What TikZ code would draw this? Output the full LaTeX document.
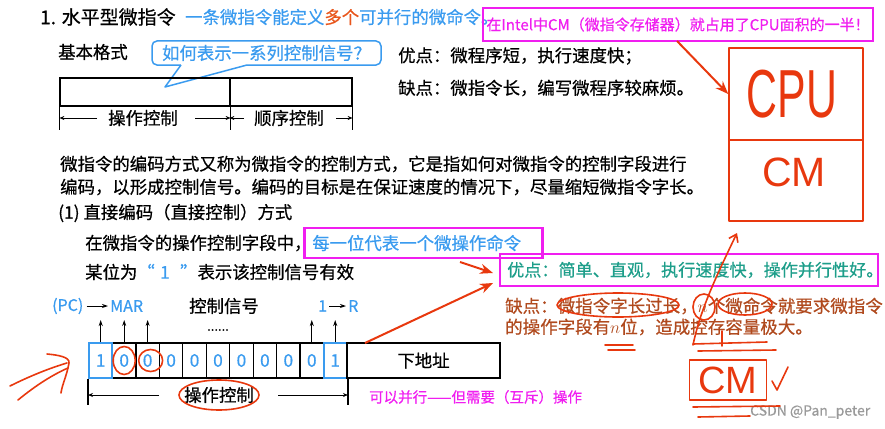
\documentclass[tikz,border=0pt]{standalone}
\usepackage{fontspec}
\setmainfont{Noto Sans CJK SC}[FakeBold=0.6]
\newfontfamily\handfont{Liberation Sans}
\usepackage{tikz}
\usetikzlibrary{positioning, arrows.meta, calc}
\definecolor{slideblue}{HTML}{3A9BEF}
\definecolor{slidered}{HTML}{E8561C}
\definecolor{hilite}{HTML}{F01EF0}
\definecolor{prosgreen}{HTML}{1E9E8A}
\definecolor{consbrown}{HTML}{B04A1E}
\definecolor{inkred}{HTML}{E8380E}
\definecolor{markgray}{HTML}{9A9A9A}
\newcommand{\txtsize}[1]{\fontsize{#1}{#1}\selectfont}

\begin{document}
\begin{tikzpicture}[
  x=1pt, y=-1pt,
  txt/.style={anchor=west, inner sep=0pt, font=\txtsize{17.4}},
  field/.style={draw, line width=1.2pt, minimum height=28pt, inner sep=0pt},
  cell/.style={draw, line width=1.2pt, minimum width=23.45pt,
    minimum height=35pt, inner sep=0pt, font=\txtsize{17.4}, text=slideblue},
  bitcell/.style={cell, draw=slideblue, line width=2pt},
  hibox/.style={draw=hilite, line width=2.6pt, inner sep=0pt},
  tick/.style={line width=1.2pt},
  dimarr/.style={-{Stealth[length=5pt, width=4pt]}, line width=0.9pt},
  sig/.style={-{Stealth[length=6pt, width=4pt]}, line width=1pt},
  redarr/.style={-{Stealth[length=13pt, width=10pt]}, line width=2pt, color=inkred},
  hand/.style={inkred, line width=1.6pt, line cap=round, line join=round},
]
  \useasboundingbox (0,0) rectangle (885,428);

  % Title line
  \node[txt, font=\txtsize{19}] (title) at (40,17) {1. 水平型微指令};
  \node[txt, text=slideblue] (claim) at (185,17)
    {一条微指令能定义{\color{slidered}多个}可并行的微命令。};
  \node[hibox, minimum width=390pt, minimum height=33pt, text=hilite,
    font=\txtsize{15}] (intelbox) at (678,24.5)
    {在Intel中CM（微指令存储器）就占用了CPU面积的一半！};

  % Basic format
  \node[txt] (basic) at (58,52) {基本格式};
  \node[draw=slideblue, line width=1.5pt, rounded corners=5pt, fill=white,
    minimum width=229pt, minimum height=24pt, inner sep=0pt,
    text=slideblue, font=\txtsize{17.4}] (ask) at (266.5,53)
    {如何表示一系列控制信号？};
  \coordinate (asktip) at (165,87);
  \fill[white] (181,63) rectangle (247,67);
  \draw[slideblue, line width=1.5pt, line join=round] (181,65) -- (asktip) -- (247,65);

  \node[field, minimum width=170pt] (opfield) at (145,92) {};
  \node[field, minimum width=122pt] (seqfield) at (291,92) {};
  \coordinate (fmtbot) at (0,130);
  \draw[tick] (opfield.south west) -- (opfield.south west |- fmtbot);
  \draw[tick] (opfield.south east) -- (opfield.south east |- fmtbot);
  \draw[tick] (seqfield.south east) -- (seqfield.south east |- fmtbot);
  \node[inner sep=0pt, font=\txtsize{17.4}] (oplab) at (143,118) {操作控制};
  \node[inner sep=0pt, font=\txtsize{17.4}] (seqlab) at (289,118) {顺序控制};
  \draw[dimarr, shorten <=11pt] (oplab.west) -- (oplab.west -| opfield.west);
  \draw[dimarr, shorten <=17pt] (oplab.east) -- (oplab.east -| opfield.east);
  \draw[dimarr, shorten <=10pt] (seqlab.west) -- (seqlab.west -| seqfield.west);
  \draw[dimarr, shorten <=12pt] (seqlab.east) -- (seqlab.east -| seqfield.east);

  \node[txt] (pros) at (398,56) {优点：微程序短，执行速度快；};
  \node[txt] (cons) at (398,88) {缺点：微指令长，编写微程序较麻烦。};

  % Paragraph
  \node[txt] (para1) at (60,164)
    {微指令的编码方式又称为微指令的控制方式，它是指如何对微指令的控制字段进行};
  \node[txt] (para2) at (60,187)
    {编码，以形成控制信号。编码的目标是在保证速度的情况下，尽量缩短微指令字长。};
  \node[txt] (direct) at (58,213) {(1) 直接编码（直接控制）方式};
  \node[txt] (infield) at (85,243) {在微指令的操作控制字段中，};
  \node[hibox, anchor=west, text width=222pt, inner xsep=8pt, minimum height=30pt,
    align=left, text=slideblue, font=\txtsize{17.4}] (eachbox) at (303,243)
    {每一位代表一个微操作命令};
  \node[txt] (valid) at (85,272)
    {某位为{\color{slideblue}“\hspace{0.3em}1\hspace{0.6em}”}表示该控制信号有效};

  % Pros and cons of direct coding
  \node[hibox, minimum width=378pt, minimum height=32pt] (goodbox) at (689,270) {};
  \node[txt, text=prosgreen, font=\txtsize{17.1}] (goodtxt) at (507,270)
    {优点：简单、直观，执行速度快，操作并行性好。};
  \node[txt, text=consbrown, font=\txtsize{17.5}] (bad1) at (505,306)
    {缺点：微指令字长过长，$n$个微命令就要求微指令};
  \node[txt, text=consbrown, font=\txtsize{17.5}] (bad2) at (505,327)
    {的操作字段有$n$位，造成控存容量极大。};

  % Control word
  \node[cell] (b2) at (124.18,360.5) {0};
  \node[cell] (b3) at (147.63,360.5) {0};
  \node[cell] (b4) at (171.08,360.5) {0};
  \node[cell] (b5) at (194.53,360.5) {0};
  \node[cell] (b6) at (217.98,360.5) {0};
  \node[cell] (b7) at (241.43,360.5) {0};
  \node[cell] (b8) at (264.88,360.5) {0};
  \node[cell] (b9) at (288.33,360.5) {0};
  \node[cell] (b10) at (311.78,360.5) {0};
  \node[bitcell] (b1) at (100.73,360.5) {1};
  \node[bitcell] (b11) at (335.23,360.5) {1};
  \node[field, minimum width=153pt, minimum height=35pt, font=\txtsize{17.4}]
    (addr) at (423.5,360.5) {下地址};

  % Signals
  \node[txt, text=slideblue, font=\txtsize{16}] (pc) at (52,306) {(PC)};
  \node[txt, text=slideblue, font=\txtsize{16}] (mar) at (110,306) {MAR};
  \node[txt, text=slideblue, font=\txtsize{16}] (one) at (318,306) {1};
  \node[txt, text=slideblue, font=\txtsize{16}] (reg) at (348,306) {R};
  \draw[sig, line width=0.9pt, shorten <=3pt, shorten >=2pt] (pc) -- (mar);
  \draw[sig, line width=0.9pt, shorten <=2pt, shorten >=2pt] (one) -- (reg);
  \node[inner sep=0pt, font=\txtsize{17.4}] (ctrlsig) at (224,306) {控制信号};
  \node[inner sep=0pt, font=\txtsize{13}] (dots) at (218,330) {......};
  \coordinate (sigtop) at (0,320);
  \draw[sig] (b1.north) -- (b1.north |- sigtop);
  \draw[sig] (b2.north) -- (b2.north |- sigtop);
  \draw[sig] (b3.north) -- (b3.north |- sigtop);
  \draw[sig] (b10.north) -- (b10.north |- sigtop);
  \draw[sig] (b11.north) -- (b11.north |- sigtop);

  % Operation field span
  \coordinate (dimbot) at (0,405);
  \draw[tick] (b1.south west) -- (b1.south west |- dimbot);
  \draw[tick] (b11.south east) -- (b11.south east |- dimbot);
  \node[inner sep=0pt, font=\txtsize{17.4}] (oplab2) at (219,395) {操作控制};
  \draw[dimarr, shorten <=25pt] (oplab2.west) -- (oplab2.west -| b1.west);
  \draw[dimarr, shorten <=24pt] (oplab2.east) -- (oplab2.east -| b11.east);
  \node[txt, text=hilite, font=\txtsize{14.5}] (mutex) at (369,397)
    {可以并行——但需要（互斥）操作};

  \node[txt, text=markgray, font=\txtsize{14}] (mark) at (750,412) {CSDN @Pan\_peter};

  % Red arrows
  \coordinate (arrA) at (677,41);
  \coordinate (arrB) at (365,343);
  \coordinate (arrBend) at (493,283);
  \coordinate (arrC) at (460,262);
  \coordinate (arrCend) at (493,273);

  % Handwritten notes
  \node[hand, draw, minimum width=134pt, minimum height=92pt] (cpubox) at (796,94) {};
  \node[hand, draw, minimum width=134pt, minimum height=81pt] (cmbox) at (796,180.5) {};
  \node[inner sep=0pt, text=inkred, font=\handfont\txtsize{68}] (cputxt) at (792,94)
    {\scalebox{0.63}[1]{CPU}};
  \node[inner sep=0pt, text=inkred, font=\handfont\txtsize{41}] (cmtxt) at (794,172.5) {CM};
  \draw[redarr] (arrA) -- (cpubox.west);
  \draw[redarr] (arrB) -- (arrBend);
  \draw[redarr] (arrC) -- (arrCend);

  \draw[hand] (b2) ellipse [x radius=11pt, y radius=14pt];
  \draw[hand] ([xshift=3pt]b3.center) ellipse [x radius=12pt, y radius=11pt];
  \draw[hand] (oplab2) ellipse [x radius=40pt, y radius=15pt];
  \draw[hand] (618,305) ellipse [x radius=61pt, y radius=12pt];
  \draw[hand] (704,307) ellipse [x radius=11pt, y radius=13pt];
  \draw[hand] (745,304) ellipse [x radius=27pt, y radius=11pt];
  \draw[hand, -{Straight Barb[length=7pt, width=10pt]}]
    (693,345) .. controls (700,312) and (712,285) .. (737,233);
  \draw[hand] (693,344) -- (767,342);
  \draw[hand] (722,331) -- (722,346);
  \draw[hand] (698,351) -- (776,350);
  \draw[hand] (605,345) -- (633,345);
  \draw[hand] (608,350) -- (635,350);

  \node[hand, draw, minimum width=77pt, minimum height=40pt, inner sep=0pt,
    text=inkred, font=\handfont\txtsize{38}] (cmbox2) at (728,380) {CM};
  \draw[hand] (772,381) -- (777,390) -- (788,367);
  \draw[hand] (693,407) -- (780,406);
  \draw[hand] (698,417) -- (750,416);

  \draw[hand] (10,386) .. controls (30,376) and (50,368) .. (67,363);
  \draw[hand] (18,400) .. controls (35,386) and (52,375) .. (68,368);
  \draw[hand] (47,354) .. controls (58,355) and (70,357) .. (69,363)
    .. controls (67,375) and (62,385) .. (61,393);
\end{tikzpicture}
\end{document}
